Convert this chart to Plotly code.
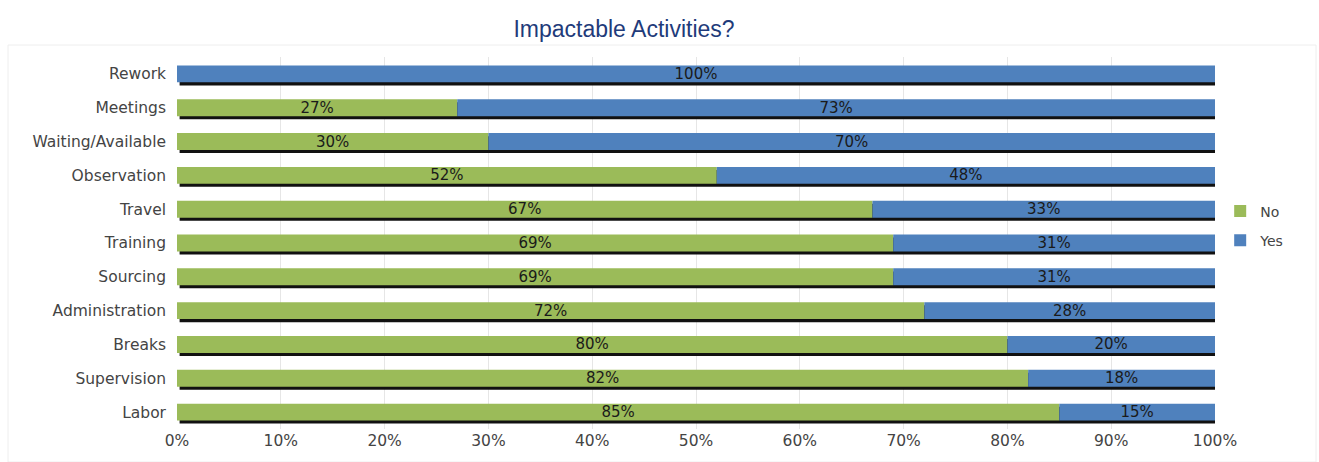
import plotly.graph_objects as go

categories = ["Labor", "Supervision", "Breaks", "Administration", "Sourcing", "Training",
              "Travel", "Observation", "Waiting/Available", "Meetings", "Rework"]
no_vals = [85, 82, 80, 72, 69, 69, 67, 52, 30, 27, 0]
yes_vals = [15, 18, 20, 28, 31, 31, 33, 48, 70, 73, 100]
x_ticks = [0, 10, 20, 30, 40, 50, 60, 70, 80, 90, 100]

GREEN = "#9BBB59"
BLUE = "#4F81BD"
W = 0.5
SH = 0.09
FS = 15.5

totals = [n + y for n, y in zip(no_vals, yes_vals)]

fig = go.Figure()
# shadow
fig.add_trace(go.Bar(
    y=categories, x=[t + 0.15 for t in totals], base=0.25, orientation="h",
    marker=dict(color="#111111", line=dict(width=0)), width=W, offset=-W / 2 - SH,
    showlegend=False, hoverinfo="skip"))
fig.add_trace(go.Bar(
    y=categories, x=no_vals, base=0, orientation="h", name="No", legendgroup="no",
    marker=dict(color=GREEN, line=dict(width=0)), width=W, offset=-W / 2,
    text=[f"{v}%" if v > 0 else "" for v in no_vals], textposition="inside",
    constraintext="none", cliponaxis=False,
    insidetextanchor="middle", textfont=dict(color="#1a1a1a", size=15, family="DejaVu Sans")))
fig.add_trace(go.Bar(
    y=categories, x=yes_vals, base=no_vals, orientation="h", name="Yes", legendgroup="yes",
    marker=dict(color=BLUE, line=dict(width=0)), width=W, offset=-W / 2,
    text=[f"{v}%" for v in yes_vals], textposition="inside",
    constraintext="none", cliponaxis=False,
    insidetextanchor="middle", textfont=dict(color="#1a1a1a", size=15, family="DejaVu Sans")))

fig.update_layout(
    width=1319, height=462,
    barmode="overlay",
    plot_bgcolor="white", paper_bgcolor="white",
    margin=dict(l=177, r=104, t=57, b=33, autoexpand=False),
    title=dict(text="Impactable Activities?", x=624 / 1319, xanchor="center",
               y=1 - 29 / 462, yanchor="middle",
               font=dict(family="Liberation Sans, Arial", size=23, color="#1F3B7A")),
    font=dict(family="DejaVu Sans", size=FS, color="#444444"),
    uniformtext=dict(mode="show", minsize=15),
    legend=dict(x=1.005, xanchor="left", y=(429 - 226) / 372, yanchor="middle",
                font=dict(size=14, color="#444444"), itemwidth=30,
                traceorder="grouped", tracegroupgap=8, itemsizing="constant"),
    xaxis=dict(range=[0, 100], tickvals=x_ticks, ticktext=[f"{t}%" for t in x_ticks],
               showgrid=True, gridcolor="#E6E6E6", gridwidth=1, zeroline=False,
               showline=False, ticks="", tickfont=dict(size=FS, color="#444444")),
    yaxis=dict(categoryorder="array", categoryarray=categories, showgrid=False,
               zeroline=False, showline=False, ticks="", ticklabelstandoff=10,
               range=[-0.5, 10.5], tickfont=dict(size=FS, color="#444444")),
    shapes=[dict(type="rect", xref="paper", yref="paper",
                 x0=-169 / 1038, x1=1139 / 1038, y0=-33 / 372, y1=(429 - 45) / 372,
                 line=dict(color="#EEEEEE", width=1), layer="below")],
)

fig.write_html("out.html")
